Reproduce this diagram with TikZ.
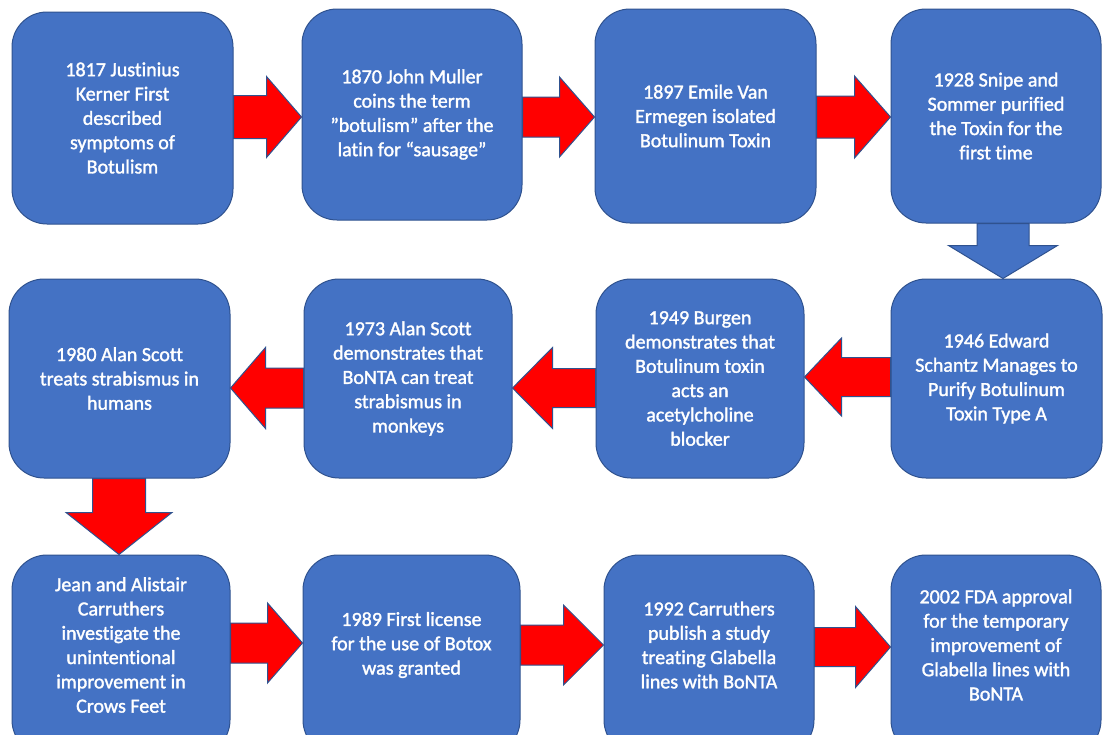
\documentclass[tikz,border=0pt]{standalone}
\usepackage{fontspec}
\setmainfont{Carlito}[Ligatures=NoCommon]
\newfontfamily\boxfont{Carlito}[Ligatures=NoCommon,FakeBold=1.6]
\usetikzlibrary{calc}
\definecolor{boxblue}{RGB}{68,114,196}
\definecolor{edgeblue}{RGB}{47,82,143}
\definecolor{arrowred}{RGB}{255,0,0}

% horizontal block arrow: #1 style, #2 start anchor, #3 tip anchor, #4 y, #5 body half, #6 head half, #7 head length (negative = pointing left)
\newcommand\arrowH[7]{%
  \coordinate (aF) at (#2 |- 0,#4);
  \coordinate (aT) at (#3 |- 0,#4);
  \draw[#1] ($(aF)+(0,{-(#5)})$) -- ($(aT)+({-(#7)},{-(#5)})$) -- ($(aT)+({-(#7)},{-(#6)})$) -- (aT)
    -- ($(aT)+({-(#7)},{#6})$) -- ($(aT)+({-(#7)},{#5})$) -- ($(aF)+(0,{#5})$) -- cycle;}
% vertical block arrow pointing down: #4 x
\newcommand\arrowV[7]{%
  \coordinate (aF) at (#4,0 |- #2);
  \coordinate (aT) at (#4,0 |- #3);
  \draw[#1] ($(aF)+({-(#5)},0)$) -- ($(aT)+({-(#5)},{-(#7)})$) -- ($(aT)+({-(#6)},{-(#7)})$) -- (aT)
    -- ($(aT)+({#6},{-(#7)})$) -- ($(aT)+({#5},{-(#7)})$) -- ($(aF)+({#5},0)$) -- cycle;}

\begin{document}
\begin{tikzpicture}[x=1pt,y=-1pt,
  box/.style={draw=edgeblue, fill=boxblue, line width=1pt, rounded corners=35pt, inner sep=0pt,
    text=white, align=center, font=\boxfont\fontsize{20}{24.3}\selectfont},
  txt/.style={text=white, align=center, inner sep=0pt, font=\boxfont\fontsize{20}{24.3}\selectfont},
  redarrow/.style={fill=arrowred, draw=edgeblue, line width=1pt, line join=miter},
  bluearrow/.style={fill=boxblue, draw=edgeblue, line width=1pt, line join=miter}]
\clip (0,0) rectangle (1103,734);
\fill[white] (0,0) rectangle (1103,734);

% row 1
\node[box, minimum width=221pt, minimum height=212pt] (b1) at (122.5,118)
  {1817 Justinius\\Kerner First\\described\\symptoms of\\Botulism};
\node[box, minimum width=220pt, minimum height=211pt] (b2) at (412,114.5)
  {1870 John Muller\\coins the term\\”botulism” after the\\latin for “sausage”};
\node[box, minimum width=221pt, minimum height=214pt] (b3) at (705.5,116)
  {1897 Emile Van\\Ermegen isolated\\Botulinum Toxin};
\node[box, minimum width=210pt, minimum height=214pt] (b4) at (996,116)
  {1928 Snipe and\\Sommer purified\\the Toxin for the\\first time};

% row 2
\node[box, minimum width=221pt, minimum height=199pt] (b5) at (119.5,378.5)
  {1980 Alan Scott\\treats strabismus in\\humans};
\node[box, minimum width=208pt, minimum height=199pt] (b6) at (408,378.5)
  {1973 Alan Scott\\demonstrates that\\BoNTA can treat\\strabismus in\\monkeys};
\node[box, minimum width=208pt, minimum height=199pt] (b7) at (700,378.5)
  {1949 Burgen\\demonstrates that\\Botulinum toxin\\acts an\\acetylcholine\\blocker};
\node[box, minimum width=211pt, minimum height=199pt] (b8) at (996.5,378.5)
  {1946 Edward\\Schantz Manages to\\Purify Botulinum\\Toxin Type A};

% row 3
\node[box, minimum width=218pt, minimum height=200pt] (b9) at (121,655) {};
\node[box, minimum width=217pt, minimum height=200pt] (b10) at (411.5,655) {};
\node[box, minimum width=210pt, minimum height=200pt] (b11) at (709,655) {};
\node[box, minimum width=210pt, minimum height=200pt] (b12) at (996,655) {};
\node[txt] (t9) at (121,645) {Jean and Alistair\\Carruthers\\investigate the\\unintentional\\improvement in\\Crows Feet};
\node[txt] (t10) at (411.5,645) {1989 First license\\for the use of Botox\\was granted};
\node[txt] (t11) at (709,645) {1992 Carruthers\\publish a study\\treating Glabella\\lines with BoNTA};
\node[txt] (t12) at (996,645) {2002 FDA approval\\for the temporary\\improvement of\\Glabella lines with\\BoNTA};

% connectors
\arrowH{redarrow}{b1.east}{b2.west}{117}{21.5}{40.5}{35}
\arrowH{redarrow}{b2.east}{b3.west}{117}{20}{40}{35}
\arrowH{redarrow}{b3.east}{b4.west}{117}{21}{41}{36}
\arrowV{bluearrow}{b4.south}{b8.north}{1003}{26}{54.5}{33}
\arrowH{redarrow}{b8.west}{b7.east}{377}{19.5}{39}{-37}
\arrowH{redarrow}{b7.west}{b6.east}{388}{19.5}{40.5}{-40}
\arrowH{redarrow}{b6.west}{b5.east}{388}{20}{40.5}{-35}
\arrowV{redarrow}{b5.south}{b9.north}{119}{26.5}{53}{42}
\arrowH{redarrow}{b9.east}{b10.west}{643}{20}{40}{35}
\arrowH{redarrow}{b10.east}{b11.west}{645}{20}{40}{40}
\arrowH{redarrow}{b11.east}{b12.west}{647}{19.5}{40.5}{35}
\end{tikzpicture}
\end{document}
